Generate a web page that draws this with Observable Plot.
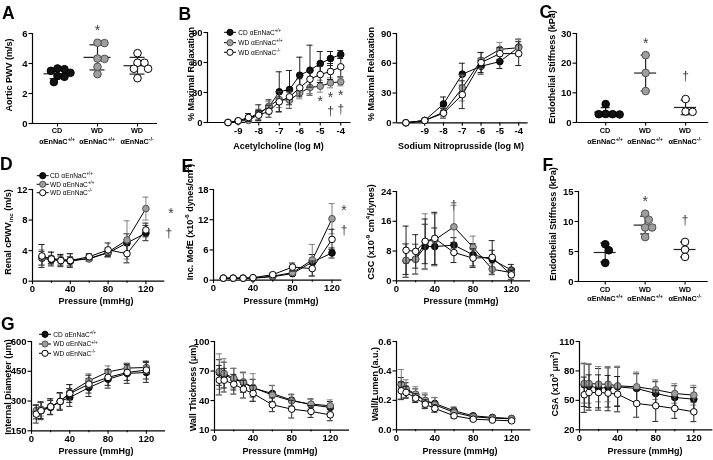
<!DOCTYPE html>
<html><head><meta charset="utf-8">
<script src="https://cdn.jsdelivr.net/npm/d3@7"></script>
<script src="https://cdn.jsdelivr.net/npm/@observablehq/plot@0.6"></script>
<style>
body{margin:0;background:#fff;}
#fig{position:relative;width:713px;height:460px;overflow:hidden;background:#fff;filter:grayscale(1);}
</style></head><body><div id="fig"></div><script>
// ---------- DATA ----------
const groupDiet = ["CD", "WD", "WD"];
const groupGeno = ["+/+", "+/+", "-/-"];

// A: aortic PWV (m/s), individual animals
const pwvA_CD = [3.67, 3.38, 3.62, 3.51, 3.11, 3.16, 2.76];
const pwvA_WD = [5.36, 5.38, 4.31, 4.33, 3.78, 3.29];
const pwvA_KO = [4.69, 4.05, 4.05, 3.65, 3.65, 3.02];

// B: acetylcholine (log M) % maximal relaxation
const achDose = [-9.5, -9, -8.5, -8, -7.5, -7, -6.5, -6, -5.5, -5, -4.5, -4];
const ach_CD    = [0, 1.5, 4, 9.7, 15.7, 30.7, 33, 47.3, 52.3, 59, 64, 68];
const ach_CD_sd = [0, 1, 3, 8, 7, 20, 19, 18, 25, 12, 7, 4];
const ach_WD    = [0, 1.5, 2, 8.3, 16.3, 23, 22.3, 29.7, 35, 36.3, 39.7, 40.7];
const ach_WD_sd = [0, 1, 2, 5, 5, 8, 8, 6, 6, 6, 5, 4];
const ach_KO    = [0, 1.7, 5, 7.3, 11.3, 20.7, 25.7, 34.7, 43.3, 48, 51, 55.7];
const ach_KO_sd = [0, 1, 4, 5, 6, 10, 8, 9, 8, 8, 8, 10];
const sigB = [{x: -5, label: "*"}, {x: -4.5, label: "*"}, {x: -4, label: "*"}, {x: -4.5, label: "†"}, {x: -4, label: "†"}];

// B: sodium nitroprusside (log M)
const snpDose = [-10, -9, -8, -7, -6, -5, -4];
const snp_CD    = [0, 2.3, 19, 49, 57, 61.7, 76.3];
const snp_CD_sd = [0, 0.5, 7, 11, 8, 7, 8];
const snp_WD    = [0, 2.3, 10.7, 35, 63, 74, 75.7];
const snp_WD_sd = [0, 0.5, 4, 13, 8, 7, 8];
const snp_KO    = [0, 2.3, 9.7, 28.3, 60.7, 69.7, 69.7];
const snp_KO_sd = [0, 0.5, 5, 14, 10, 6, 12];

// C: endothelial stiffness (kPa)
const stiffC_CD = [2.8, 2.7, 2.8, 2.9, 6.2];
const stiffC_WD = [22.7, 16.7, 10.6];
const stiffC_KO = [7.9, 3.7, 3.6];

// D: renal cPWVinc (m/s)
const pressD = [10, 20, 30, 40, 60, 80, 100, 120];
const cpwv_CD    = [3.0, 2.8, 2.7, 2.6, 3.0, 3.7, 5.0, 6.3];
const cpwv_CD_sd = [0.9, 0.5, 0.6, 0.6, 0.4, 0.5, 1.2, 1.0];
const cpwv_WD    = [3.1, 3.0, 2.8, 2.8, 2.9, 3.8, 5.4, 9.5];
const cpwv_WD_sd = [1.0, 0.8, 0.7, 0.8, 0.3, 0.6, 2.5, 1.5];
const cpwv_KO    = [3.3, 2.9, 2.7, 2.7, 3.2, 4.1, 3.6, 6.7];
const cpwv_KO_sd = [1.5, 0.9, 0.8, 0.9, 0.4, 0.9, 1.2, 0.9];

// E: incremental MofE
const mofe_CD    = [0.4, 0.4, 0.4, 0.4, 0.7, 1.3, 3.6, 5.4];
const mofe_CD_sd = [0.1, 0.1, 0.1, 0.1, 0.2, 0.4, 1.5, 1.0];
const mofe_WD    = [0.4, 0.4, 0.4, 0.4, 0.8, 1.5, 4.0, 12.2];
const mofe_WD_sd = [0.1, 0.1, 0.1, 0.1, 0.3, 0.5, 3.1, 3.0];
const mofe_KO    = [0.4, 0.4, 0.4, 0.5, 1.1, 2.6, 2.3, 8.1];
const mofe_KO_sd = [0.1, 0.1, 0.1, 0.1, 0.3, 0.8, 1.5, 2.0];

// E: CSC
const csc_CD    = [5.4, 5.8, 9.2, 9.2, 9.6, 7.0, 5.7, 2.9];
const csc_CD_sd = [4.5, 4.0, 6.0, 5.0, 2.0, 3.0, 2.5, 1.5];
const csc_WD    = [5.5, 5.8, 10.5, 11.0, 14.5, 9.0, 3.1, 2.2];
const csc_WD_sd = [4.5, 4.0, 7.5, 7.0, 5.8, 3.0, 1.5, 1.2];
const csc_KO    = [8.2, 7.9, 10.6, 11.4, 7.6, 6.1, 6.3, 1.6];
const csc_KO_sd = [6.5, 4.5, 6.0, 7.0, 2.7, 2.5, 4.5, 1.2];

// F: endothelial stiffness (kPa)
const stiffF_CD = [6.2, 5.2, 3.1];
const stiffF_WD = [11.3, 10.3, 9.0, 9.0, 7.4];
const stiffF_KO = [6.6, 5.3, 4.1];

// G: pressure myography
const pressG = [5, 10, 20, 30, 40, 60, 80, 100, 120];
const diam_CD    = [245, 252, 268, 298, 318, 368, 410, 439, 444];
const diam_CD_sd = [35, 40, 35, 40, 45, 45, 45, 50, 50];
const diam_WD    = [252, 259, 272, 298, 343, 402, 447, 466, 469];
const diam_WD_sd = [30, 35, 40, 40, 40, 35, 30, 25, 30];
const diam_KO    = [234, 251, 271, 298, 338, 385, 419, 444, 456];
const diam_KO_sd = [45, 45, 40, 45, 45, 45, 40, 40, 45];

const wall_CD    = [68.5, 66, 61.7, 58.3, 52.6, 47.2, 40.4, 35.7, 33];
const wall_CD_sd = [13, 13, 11, 10, 9, 8, 6, 6, 6];
const wall_WD    = [69.5, 67.5, 62.7, 59, 53.3, 45.5, 39.7, 36.4, 34.7];
const wall_WD_sd = [18, 15, 10, 10, 14, 10, 6, 5, 6];
const wall_KO    = [60.7, 60.7, 56.6, 51.6, 47.2, 35.7, 31.3, 28.9, 25.5];
const wall_KO_sd = [15, 12, 10, 9, 8, 7, 9, 6, 6];

const wl_CD    = [0.305, 0.27, 0.238, 0.197, 0.179, 0.129, 0.095, 0.084, 0.077];
const wl_CD_sd = [0.05, 0.05, 0.04, 0.04, 0.04, 0.025, 0.015, 0.012, 0.01];
const wl_WD    = [0.31, 0.28, 0.242, 0.20, 0.17, 0.118, 0.088, 0.079, 0.075];
const wl_WD_sd = [0.1, 0.06, 0.05, 0.05, 0.05, 0.03, 0.015, 0.012, 0.012];
const wl_KO    = [0.265, 0.254, 0.215, 0.174, 0.145, 0.095, 0.072, 0.066, 0.061];
const wl_KO_sd = [0.06, 0.04, 0.03, 0.03, 0.025, 0.015, 0.012, 0.01, 0.01];

const csa_CD    = [65.8, 64.8, 62.4, 63.1, 63.8, 62.1, 57, 52.9, 51.2];
const csa_CD_sd = [22, 22, 20, 20, 20, 15, 12, 12, 12];
const csa_WD    = [67.2, 67.2, 66.5, 66.5, 64.8, 63.8, 60.8, 57, 55.3];
const csa_WD_sd = [20, 20, 18, 18, 20, 15, 10, 10, 10];
const csa_KO    = [55.7, 58, 58, 57.4, 56.3, 46.8, 44.5, 41.7, 38.3];
const csa_KO_sd = [18, 18, 18, 18, 18, 14, 16, 10, 10];

// ---------- DRAWING ----------
const fig = document.getElementById("fig");
const FONT = "'Liberation Sans', Arial, Helvetica, sans-serif";
const FILL = ["#111111", "#9e9e9e", "#ffffff"];
const STROKE = ["#000000", "#505050", "#000000"];
const ERR = ["#222222", "#808080", "#222222"];
const SIGC = "#3a3a3a";
const ML = 30, MR = 12, MT = 8, MB = 18;

function basePlot(f, xd, yd, marks) {
  const svg = Plot.plot({
    width: f.x1 - f.x0 + ML + MR,
    height: f.y1 - f.y0 + MT + MB,
    marginLeft: ML, marginRight: MR, marginTop: MT, marginBottom: MB,
    x: {domain: xd, axis: null},
    y: {domain: yd, axis: null},
    style: {fontFamily: FONT, fontSize: "9.5px", fontWeight: "bold", background: "transparent", overflow: "visible", color: "#000", maxWidth: "none"},
    marks
  });
  svg.style.position = "absolute";
  svg.style.left = (f.x0 - ML) + "px";
  svg.style.top = (f.y0 - MT) + "px";
  fig.appendChild(svg);
  return svg;
}

function axes(xd, yd, yt, xt, o = {}) {
  return [
    Plot.axisY({ticks: yt, label: null, tickSize: 3.5, tickPadding: 1.5, tickFormat: o.yfmt || String, strokeWidth: 1.1}),
    Plot.axisX({ticks: xt, label: null, tickSize: 3.5, tickPadding: 1, tickFormat: o.xfmt || String, strokeWidth: 1.1}),
    o.xminor ? Plot.axisX({ticks: o.xminor, label: null, tickSize: 2, tickFormat: () => "", strokeWidth: 1.1}) : null,
    Plot.ruleX([xd[0]], {stroke: "#000", strokeWidth: 1.2}),
    Plot.ruleY([yd[0]], {stroke: "#000", strokeWidth: 1.2})
  ];
}

function sigText(data, o) {
  return Plot.text(data, {text: "label", fontWeight: "normal", fill: SIGC,
    fontSize: o.dag ? 12 : 14, ...o});
}

function linePanel(f, xd, yd, yt, xt, xs, series, extra, o = {}) {
  const rows = series.flatMap((s, g) => xs.map((x, i) => ({x, y: s[0][i], sd: s[1][i], g})));
  const marks = axes(xd, yd, yt, xt, o);
  [0, 1, 2].forEach(g => {
    const d = rows.filter(r => r.g === g);
    marks.push(
      Plot.ruleX(d, {x: "x", y1: r => r.y - r.sd, y2: r => r.y + r.sd, stroke: ERR[g], strokeWidth: 1}),
      Plot.ruleY(d, {x1: "x", x2: "x", y: r => r.y + r.sd, insetLeft: -3, insetRight: -3, stroke: ERR[g], strokeWidth: 1}),
      Plot.ruleY(d, {x1: "x", x2: "x", y: r => r.y - r.sd, insetLeft: -3, insetRight: -3, stroke: ERR[g], strokeWidth: 1}),
      Plot.line(d, {x: "x", y: "y", stroke: "#000", strokeWidth: 1}),
      Plot.dot(d, {x: "x", y: "y", r: 3.3, fill: FILL[g], stroke: STROKE[g], strokeWidth: 1})
    );
  });
  marks.push(...extra(rows));
  return basePlot(f, xd, yd, marks);
}

function beeswarm(ys, diam) {
  const n = ys.length, xs = new Array(n), placed = [];
  const order = d3.range(n).sort((a, b) => ys[b] - ys[a]);
  for (const i of order) {
    const cands = [0];
    for (const j of placed) {
      const dy = Math.abs(ys[i] - ys[j]);
      if (dy < diam) { const dx = Math.sqrt(diam * diam - dy * dy); cands.push(xs[j] + dx, xs[j] - dx); }
    }
    cands.sort((a, b) => Math.abs(a) - Math.abs(b) || b - a);
    for (const c of cands) {
      if (placed.every(j => (c - xs[j]) ** 2 + (ys[i] - ys[j]) ** 2 >= diam * diam - 1e-6)) { xs[i] = c; break; }
    }
    placed.push(i);
  }
  return xs;
}

function scatterPanel(f, xd, yd, yt, vals, meanHalf, capHalf, sig, starDy, dagDy) {
  const pyu = (f.y1 - f.y0) / (yd[1] - yd[0]);
  const pxu = (f.x1 - f.x0) / (xd[1] - xd[0]);
  const pts = [];
  vals.forEach((vs, g) => {
    const offs = beeswarm(vs.map(v => v * pyu), 7);
    vs.forEach((v, i) => pts.push({xi: g + offs[i] / pxu, v, g}));
  });
  const stats = vals.map((vs, g) => ({g, mean: d3.mean(vs), sd: d3.deviation(vs), max: d3.max(vs)}));
  const marks = axes(xd, yd, yt, [0, 1, 2], {xfmt: () => ""});
  marks.push(
    Plot.ruleY(stats, {x1: "g", x2: "g", y: "mean", insetLeft: -meanHalf, insetRight: -meanHalf, stroke: "#222", strokeWidth: 1.2}),
    Plot.ruleX(stats, {x: "g", y1: d => d.mean - d.sd, y2: d => d.mean + d.sd, stroke: "#222", strokeWidth: 1.2}),
    Plot.ruleY(stats, {x1: "g", x2: "g", y: d => d.mean + d.sd, insetLeft: -capHalf, insetRight: -capHalf, stroke: "#222", strokeWidth: 1.2}),
    Plot.ruleY(stats, {x1: "g", x2: "g", y: d => d.mean - d.sd, insetLeft: -capHalf, insetRight: -capHalf, stroke: "#222", strokeWidth: 1.2})
  );
  [0, 1, 2].forEach(g => marks.push(Plot.dot(pts.filter(p => p.g === g), {x: "xi", y: "v", r: 3.8, fill: FILL[g], stroke: STROKE[g], strokeWidth: 1})));
  marks.push(
    sigText(sig.filter(s => s.label === "*"), {x: "g", y: s => stats[s.g].max, dy: starDy}),
    sigText(sig.filter(s => s.label === "†"), {x: "g", y: s => stats[s.g].max, dy: dagDy, dag: true})
  );
  return basePlot(f, xd, yd, marks);
}

const pressTicks = [0, 40, 80, 120], pressMinor = [20, 60, 100];

// A
const sigA = [{g: 1, label: "*"}];
scatterPanel({x0: 32, x1: 157, y0: 33, y1: 123}, [-0.625, 2.5], [0, 6], [0, 2, 4, 6], [pwvA_CD, pwvA_WD, pwvA_KO], 13.5, 7.5, sigA, -12, -22);

// B left
linePanel({x0: 207, x1: 350.5, y0: 32.3, y1: 122.3}, [-10.5, -3.5], [0, 90], [0, 30, 60, 90], [-9, -8, -7, -6, -5, -4], achDose,
  [[ach_CD, ach_CD_sd], [ach_WD, ach_WD_sd], [ach_KO, ach_KO_sd]],
  rows => {
    const gray = x => rows.find(r => r.g === 1 && r.x === x);
    return [
      sigText(sigB.filter(s => s.label === "*"), {x: "x", y: s => gray(s.x).y - gray(s.x).sd, dy: 9.5}),
      sigText(sigB.filter(s => s.label === "†"), {x: "x", y: s => gray(s.x).y - gray(s.x).sd, dy: 23.5, dag: true})
    ];
  });

// B right
linePanel({x0: 395.7, x1: 527.3, y0: 33, y1: 122.3}, [-10.5, -3.5], [0, 90], [0, 30, 60, 90], [-9, -8, -7, -6, -5, -4], snpDose,
  [[snp_CD, snp_CD_sd], [snp_WD, snp_WD_sd], [snp_KO, snp_KO_sd]], () => []);

// C
const sigC = [{g: 1, label: "*"}, {g: 2, label: "†"}];
scatterPanel({x0: 575.7, x1: 708, y0: 33.3, y1: 122.3}, [-0.73, 2.58], [0, 30], [0, 10, 20, 30], [stiffC_CD, stiffC_WD, stiffC_KO], 11, 4.5, sigC, -11.4, -23);

// D
const sigD = [{g: 1, label: "*"}, {g: 2, label: "†"}];
linePanel({x0: 31.7, x1: 164, y0: 189.3, y1: 281}, [0, 140], [0, 12], [0, 4, 8, 12], pressTicks, pressD,
  [[cpwv_CD, cpwv_CD_sd], [cpwv_WD, cpwv_WD_sd], [cpwv_KO, cpwv_KO_sd]],
  rows => {
    const last = g => rows.filter(r => r.g === g).at(-1);
    return [
      sigText(sigD.filter(s => s.label === "*"), {x: s => last(s.g).x, y: s => last(s.g).y, dx: 25, dy: 4.6}),
      sigText(sigD.filter(s => s.label === "†"), {x: s => last(s.g).x, y: s => last(s.g).y, dx: 23, dy: 3.1, dag: true})
    ];
  }, {xminor: pressMinor});

// E left
const sigE = [{g: 1, label: "*"}, {g: 2, label: "†"}];
linePanel({x0: 213.3, x1: 341.7, y0: 189.3, y1: 280}, [0, 130], [0, 18], [0, 6, 12, 18], pressTicks, pressD,
  [[mofe_CD, mofe_CD_sd], [mofe_WD, mofe_WD_sd], [mofe_KO, mofe_KO_sd]],
  rows => {
    const last = g => rows.filter(r => r.g === g).at(-1);
    return [
      sigText(sigE.filter(s => s.label === "*"), {x: s => last(s.g).x, y: s => last(s.g).y + last(s.g).sd, dx: 12, dy: 7}),
      sigText(sigE.filter(s => s.label === "†"), {x: s => last(s.g).x, y: s => last(s.g).y + last(s.g).sd, dx: 12, dy: 0.5, dag: true})
    ];
  }, {xminor: pressMinor});

// E right
const sigCSC = [{g: 1, x: 60, label: "†"}];
linePanel({x0: 396, x1: 530, y0: 190.7, y1: 280}, [0, 140], [0, 24], [0, 8, 16, 24], pressTicks, pressD,
  [[csc_CD, csc_CD_sd], [csc_WD, csc_WD_sd], [csc_KO, csc_KO_sd]],
  rows => {
    const pt = s => rows.find(r => r.g === s.g && r.x === s.x);
    return [sigText(sigCSC, {x: "x", y: s => pt(s).y + pt(s).sd, dy: 0, dag: true})];
  }, {xminor: pressMinor});

// F
const sigF = [{g: 1, label: "*"}, {g: 2, label: "†"}];
scatterPanel({x0: 578.3, x1: 708, y0: 190.7, y1: 280.7}, [-0.67, 2.58], [0, 15], [0, 5, 10, 15], [stiffF_CD, stiffF_WD, stiffF_KO], 11, 4.5, sigF, -12.4, -21.4);

// G
const none = () => [];
linePanel({x0: 31, x1: 165, y0: 340.7, y1: 430}, [0, 140], [150, 600], [150, 300, 450, 600], pressTicks, pressG,
  [[diam_CD, diam_CD_sd], [diam_WD, diam_WD_sd], [diam_KO, diam_KO_sd]], none, {xminor: pressMinor});
linePanel({x0: 214.3, x1: 349.4, y0: 340.7, y1: 429.3}, [0, 140], [10, 100], [10, 40, 70, 100], pressTicks, pressG,
  [[wall_CD, wall_CD_sd], [wall_WD, wall_WD_sd], [wall_KO, wall_KO_sd]], none, {xminor: pressMinor});
linePanel({x0: 395.7, x1: 530, y0: 340.7, y1: 429}, [0, 140], [0, 0.6], [0, 0.2, 0.4, 0.6], pressTicks, pressG,
  [[wl_CD, wl_CD_sd], [wl_WD, wl_WD_sd], [wl_KO, wl_KO_sd]], none, {xminor: pressMinor, yfmt: d3.format(".1f")});
linePanel({x0: 579.3, x1: 712.7, y0: 340.7, y1: 429}, [0, 140], [20, 110], [20, 50, 80, 110], pressTicks, pressG,
  [[csa_CD, csa_CD_sd], [csa_WD, csa_WD_sd], [csa_KO, csa_KO_sd]], none, {xminor: pressMinor});

// ---------- TEXT OVERLAY (titles, panel letters, legends, category labels) ----------
const ov = d3.select(fig).append("svg").attr("width", 713).attr("height", 460)
  .style("position", "absolute").style("left", "0px").style("top", "0px").attr("font-family", FONT);

function rich(x, y, parts, size, weight = "bold", anchor = "start", rotate = false) {
  const g = ov.append("g").attr("transform", `translate(${x},${y})` + (rotate ? " rotate(-90)" : ""));
  const t = g.append("text").attr("font-size", size).attr("font-weight", weight).attr("text-anchor", anchor).attr("fill", "#000");
  let shift = 0;
  for (const [s, kind] of parts) {
    const target = kind === "sup" ? -0.4 * size : kind === "sub" ? 0.25 * size : 0;
    t.append("tspan").attr("dy", target - shift).attr("font-size", kind ? size * 0.68 : size).text(s);
    shift = target;
  }
}

// panel letters
[["A", 2, 18.5], ["B", 178.5, 19.5], ["C", 539.5, 17.5], ["D", 0, 170], ["E", 181.5, 171.5], ["F", 542.5, 170.5], ["G", 1, 330]]
  .forEach(([l, x, y]) => rich(x, y, [[l]], 17.5));

// y titles
const TS = 9;
rich(12, 75, [["Aortic PWV (m/s)"]], TS, "bold", "middle", true);
rich(194, 74, [["% Maximal Relaxation"]], TS, "bold", "middle", true);
rich(374, 74, [["% Maximal Relaxation"]], TS, "bold", "middle", true);
rich(555, 67, [["Endothelial Stiffness (kPa)"]], TS, "bold", "middle", true);
rich(11, 232, [["Renal cPWV"], ["inc", "sub"], [" (m/s)"]], TS, "bold", "middle", true);
rich(193, 222, [["Inc. MofE (x10"], ["-6", "sup"], [" dynes/cm"], ["2", "sup"], [")"]], TS, "bold", "middle", true);
rich(374, 232, [["CSC (x10"], ["-9", "sup"], [" cm"], ["4", "sup"], ["/dynes)"]], TS, "bold", "middle", true);
rich(556, 224, [["Endothelial Stiffness (kPa)"]], TS, "bold", "middle", true);
rich(10.5, 387, [["Internal Diameter (μm)"]], TS, "bold", "middle", true);
rich(195.5, 388, [["Wall Thickness (μm)"]], TS, "bold", "middle", true);
rich(378, 384, [["Wall/Lumen (a.u.)"]], TS, "bold", "middle", true);
rich(558, 384, [["CSA (x10"], ["3", "sup"], [" μm"], ["2", "sup"], [")"]], TS, "bold", "middle", true);

// x titles
rich(278.5, 148.5, [["Acetylcholine (log M)"]], TS, "bold", "middle");
rich(461, 148.5, [["Sodium Nitroprusside (log M)"]], TS, "bold", "middle");
[[96, 303.5], [281, 303.5], [461, 303.5], [96, 454], [280, 454], [460, 454], [645, 454]]
  .forEach(([x, y]) => rich(x, y, [["Pressure (mmHg)"]], TS, "bold", "middle"));

// category labels
function cats(xs, y1, y2) {
  xs.forEach((x, i) => {
    rich(x, y1, [[groupDiet[i]]], 7.3, "bold", "middle");
    rich(x, y2, [["αEnNaC"], [groupGeno[i], "sup"]], 7.3, "bold", "middle");
  });
}
cats([57, 97, 137], 133.3, 143.5);
cats([605, 645, 685], 133.3, 143.5);
cats([605, 645, 685], 291.5, 301.3);

// legends
function legend(x, ys, tx) {
  ys.forEach((y, i) => {
    ov.append("line").attr("x1", x - 6).attr("x2", x + 6).attr("y1", y).attr("y2", y).attr("stroke", "#000").attr("stroke-width", 1);
    ov.append("circle").attr("cx", x).attr("cy", y).attr("r", 3.1).attr("fill", FILL[i]).attr("stroke", STROKE[i]).attr("stroke-width", 1);
    rich(tx, y + 2.3, [[groupDiet[i] + " αEnNaC"], [groupGeno[i], "sup"]], 6.6, "normal");
  });
}
legend(230, [32.3, 42.7, 52.3], 238.3);
legend(42.7, [175.7, 184.3, 192.7], 50);
legend(45, [334.3, 344, 353.3], 53.3);
</script></body></html>
